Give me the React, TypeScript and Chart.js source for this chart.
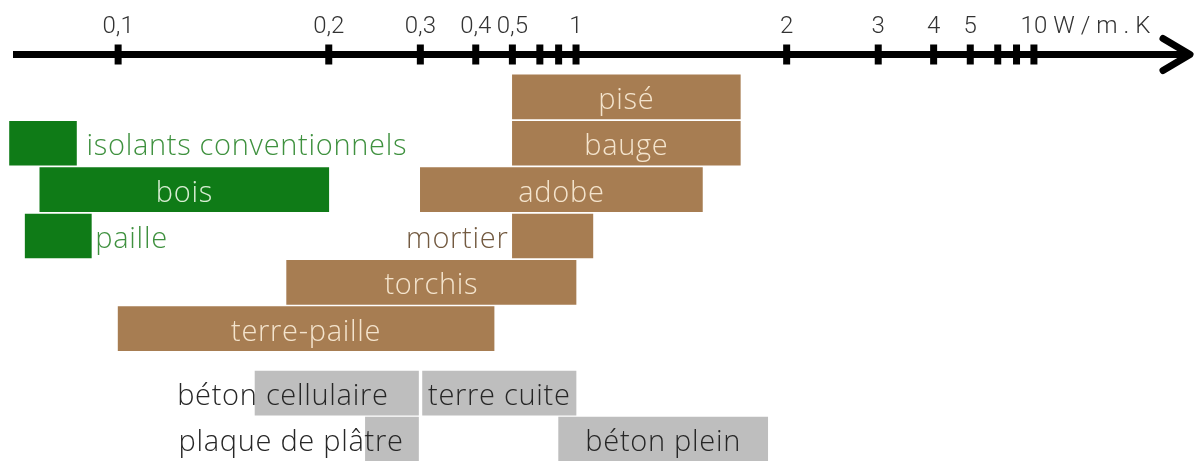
import React, { useEffect, useRef } from 'react';
import { Chart, LinearScale, registerables } from 'chart.js';

// ---------- data ----------
const MATERIALS = [
  'pisé', 'bauge', 'adobe', 'mortier', 'torchis', 'terre-paille',
  'isolants conventionnels', 'bois', 'paille',
  'béton cellulaire', 'terre cuite', 'plaque de plâtre', 'béton plein',
];
const LOW_VALUES = [0.5, 0.5, 0.3, 0.5, 0.18, 0.1, 0.0385, 0.046, 0.042, 0.165, 0.304, 0.24, 0.8];
const HIGH_VALUES = [1.78, 1.78, 1.6, 1.08, 1.0, 0.45, 0.058, 0.2, 0.07, 0.298, 1.0, 0.298, 1.91];
const ROW_SLOTS = [0, 1, 2, 3, 4, 5, 1, 2, 3, 6.39, 6.39, 7.38, 7.38];
const FAMILIES = [
  'terre', 'terre', 'terre', 'terre', 'terre', 'terre',
  'bio', 'bio', 'bio',
  'industriel', 'industriel', 'industriel', 'industriel',
];

const TICK_VALUES = [0.1, 0.2, 0.3, 0.4, 0.5, 0.6, 0.8, 1, 2, 3, 4, 5, 6, 8, 10];
const TICK_LABELS = ['0,1', '0,2', '0,3', '0,4', '0,5', '', '', '1', '2', '3', '4', '5', '', '', '10'];
const UNIT_LABEL = 'W/m.K';

// scale definition: position of each multiple inside one decade
const DECADE_MULTIPLES = [1, 2, 3, 4, 5, 6, 8, 10];
const DECADE_POSITIONS = [0, 0.46, 0.66, 0.781, 0.861, 0.921, 0.962, 1];
const X_MIN = 0.0375;
const X_MAX = 17.6;
const Y_MIN = -0.914;
const Y_MAX = 7.854;

// ---------- styles ----------
const FONT_FAMILY = '"Open Sans", "DejaVu Sans", sans-serif';
const TICK_FONT_FAMILY = 'Roboto, "Open Sans", sans-serif';
const BAR_COLORS: Record<string, string> = {
  terre: '#A77D52',
  bio: '#0F7B17',
  industriel: '#BEBEBE',
};
const INSIDE_TEXT: Record<string, string> = {
  terre: '#F4E4CD',
  bio: '#D8EDD3',
  industriel: '#262626',
};
const OUTSIDE_TEXT: Record<string, string> = {
  terre: '#735A40',
  bio: '#3F913F',
  industriel: '#262626',
};
type Layout = { align: 'center' | 'after' | 'before' | 'insideEnd'; gap?: number };
const LABEL_LAYOUT: Record<string, Layout> = {
  'isolants conventionnels': { align: 'after', gap: 10 },
  paille: { align: 'after', gap: 4 },
  mortier: { align: 'before', gap: 4 },
  'béton cellulaire': { align: 'insideEnd', gap: 30 },
  'plaque de plâtre': { align: 'insideEnd', gap: 15 },
};
const TICK_LENGTH = 10;
const TICK_PADDING = 3;
const TICK_FONT_SIZE = 24;

// ---------- warped scale ----------
function warp(v: number): number {
  const d = Math.floor(Math.log10(v) + 1e-9);
  const m = v / Math.pow(10, d);
  for (let i = 1; i < DECADE_MULTIPLES.length; i++) {
    if (m <= DECADE_MULTIPLES[i] + 1e-9) {
      const a = DECADE_MULTIPLES[i - 1];
      const b = DECADE_MULTIPLES[i];
      const pa = DECADE_POSITIONS[i - 1];
      const pb = DECADE_POSITIONS[i];
      return d + pa + ((pb - pa) * (m - a)) / (b - a);
    }
  }
  return d + 1;
}
function unwarp(u: number): number {
  const d = Math.floor(u);
  const f = u - d;
  for (let i = 1; i < DECADE_POSITIONS.length; i++) {
    if (f <= DECADE_POSITIONS[i]) {
      const a = DECADE_MULTIPLES[i - 1];
      const b = DECADE_MULTIPLES[i];
      const pa = DECADE_POSITIONS[i - 1];
      const pb = DECADE_POSITIONS[i];
      return (a + ((f - pa) / (pb - pa)) * (b - a)) * Math.pow(10, d);
    }
  }
  return Math.pow(10, d + 1);
}

class WarpScale extends LinearScale {
  static id = 'warp';
  buildTicks() {
    return TICK_VALUES.map((value) => ({ value }));
  }
  getPixelForValue(value: any) {
    if (value === null || value === undefined || !isFinite(value) || value <= 0) return NaN;
    const a = warp((this as any).min);
    const b = warp((this as any).max);
    return this.getPixelForDecimal((warp(value) - a) / (b - a));
  }
  getValueForPixel(pixel: number) {
    const a = warp((this as any).min);
    const b = warp((this as any).max);
    return unwarp(a + this.getDecimalForPixel(pixel) * (b - a));
  }
}

Chart.register(...registerables, WarpScale as any);

// ---------- plugins ----------
const axisPlugin = {
  id: 'arrowAxis',
  afterDraw(chart: any) {
    const { ctx, chartArea } = chart;
    const xs = chart.scales.x;
    const y = xs.bottom;
    const tip = chartArea.right - 4;
    ctx.save();
    ctx.strokeStyle = '#000';
    ctx.fillStyle = '#000';
    ctx.lineWidth = 7;
    ctx.lineCap = 'butt';
    ctx.beginPath();
    ctx.moveTo(chartArea.left + 9, y);
    ctx.lineTo(tip, y);
    ctx.stroke();
    ctx.lineJoin = 'round';
    ctx.lineCap = 'round';
    ctx.beginPath();
    ctx.moveTo(tip - 27, y - 16);
    ctx.lineTo(tip, y);
    ctx.lineTo(tip - 27, y + 16);
    ctx.stroke();
    xs.ticks.forEach((_t: any, i: number) => {
      const px = xs.getPixelForTick(i);
      ctx.fillRect(px - 3.5, y - 10, 7, 20);
    });
    // unit after the last tick label
    const last = TICK_VALUES.length - 1;
    ctx.font = `300 ${TICK_FONT_SIZE}px ${TICK_FONT_FAMILY}`;
    const lastLabelW = ctx.measureText(TICK_LABELS[last]).width;
    const ux = xs.getPixelForValue(TICK_VALUES[last]) + lastLabelW / 2 + 6;
    const uy = y - TICK_LENGTH - TICK_PADDING - (TICK_FONT_SIZE * 1.2) / 2;
    ctx.fillStyle = '#333';
    ctx.textAlign = 'left';
    ctx.textBaseline = 'middle';
    try { (ctx as any).letterSpacing = '6px'; } catch (e) { /* ignore */ }
    ctx.fillText(UNIT_LABEL, ux, uy);
    ctx.restore();
  },
};

const labelPlugin = {
  id: 'barLabels',
  afterDatasetsDraw(chart: any) {
    const { ctx } = chart;
    const meta = chart.getDatasetMeta(0);
    ctx.save();
    ctx.font = `300 29px ${FONT_FAMILY}`;
    try { (ctx as any).letterSpacing = '0.7px'; } catch (e) { /* ignore */ }
    ctx.textBaseline = 'alphabetic';
    meta.data.forEach((bar: any, i: number) => {
      const { x, base, y } = bar.getProps(['x', 'base', 'y'], true);
      const left = Math.min(x, base);
      const right = Math.max(x, base);
      const name = MATERIALS[i];
      const fam = FAMILIES[i];
      const layout = LABEL_LAYOUT[name] || { align: 'center' };
      const gap = layout.gap || 0;
      const by = y + 12;
      if (layout.align === 'after') {
        ctx.fillStyle = OUTSIDE_TEXT[fam];
        ctx.textAlign = 'left';
        ctx.fillText(name, right + gap, by);
      } else if (layout.align === 'before') {
        ctx.fillStyle = OUTSIDE_TEXT[fam];
        ctx.textAlign = 'right';
        ctx.fillText(name, left - gap, by);
      } else if (layout.align === 'insideEnd') {
        ctx.fillStyle = INSIDE_TEXT[fam];
        ctx.textAlign = 'right';
        ctx.fillText(name, right - gap, by);
      } else {
        ctx.fillStyle = INSIDE_TEXT[fam];
        ctx.textAlign = 'center';
        ctx.fillText(name, (left + right) / 2, by);
      }
    });
    ctx.restore();
  },
};

export default function App() {
  const canvasRef = useRef<HTMLCanvasElement | null>(null);

  useEffect(() => {
    document.body.style.margin = '0';
    const canvas = canvasRef.current;
    if (!canvas) return;
    const chart = new Chart(canvas, {
      type: 'bar',
      data: {
        datasets: [
          {
            data: MATERIALS.map((_m, i) => ({ x: [LOW_VALUES[i], HIGH_VALUES[i]], y: ROW_SLOTS[i] })) as any,
            backgroundColor: FAMILIES.map((f) => BAR_COLORS[f]),
            borderWidth: 0,
            borderSkipped: false,
            barThickness: 44,
          },
        ],
      },
      options: {
        indexAxis: 'y',
        responsive: false,
        animation: false,
        devicePixelRatio: 1,
        layout: { padding: { left: 4, right: 4, top: 9.7, bottom: 0 } },
        plugins: {
          legend: { display: false },
          tooltip: { enabled: false },
        },
        scales: {
          x: {
            type: 'warp' as any,
            position: 'top',
            min: X_MIN,
            max: X_MAX,
            offset: false,
            border: { display: false },
            grid: {
              display: true,
              drawOnChartArea: false,
              drawTicks: true,
              tickLength: TICK_LENGTH,
              color: 'rgba(0,0,0,0)',
            },
            ticks: {
              autoSkip: false,
              maxRotation: 0,
              minRotation: 0,
              padding: TICK_PADDING,
              color: '#333',
              font: { family: TICK_FONT_FAMILY, size: TICK_FONT_SIZE, weight: '300' as any },
              callback: (_v: any, i: number) => TICK_LABELS[i],
            },
          },
          y: {
            type: 'linear',
            display: false,
            reverse: true,
            offset: false,
            min: Y_MIN,
            max: Y_MAX,
          },
        },
      } as any,
      plugins: [axisPlugin, labelPlugin],
    });
    return () => chart.destroy();
  }, []);

  return <canvas ref={canvasRef} width={1198} height={461} style={{ display: 'block' }} />;
}
